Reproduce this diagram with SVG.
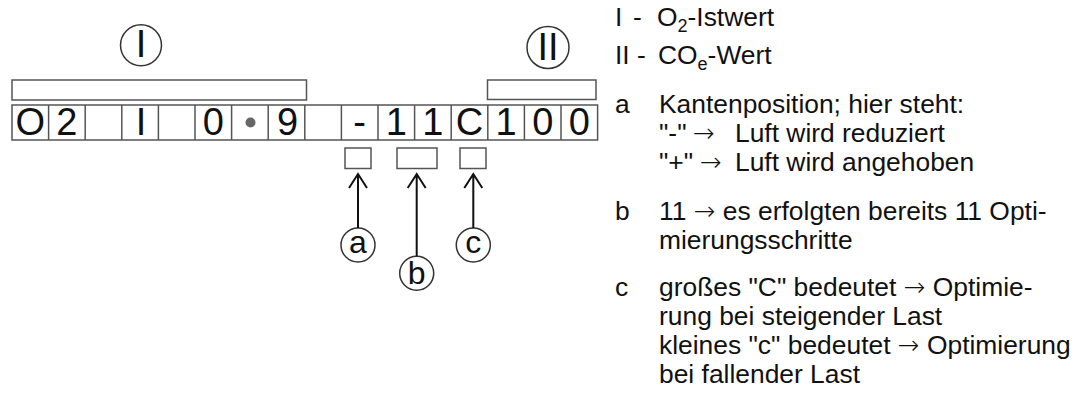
<svg xmlns="http://www.w3.org/2000/svg" width="1092" height="396" viewBox="0 0 1092 396">
<style>
.box{fill:#fff;stroke:#555;stroke-width:1.5}
.dv{stroke:#555;stroke-width:1.5}
.dig{font-family:"Liberation Sans Narrow","Liberation Sans",Arial,sans-serif;font-size:38px;fill:#111;text-anchor:middle}
.lbl{font-family:"Liberation Sans",Arial,sans-serif;font-size:32px;fill:#111;text-anchor:middle}
.circ{fill:#fff;stroke:#333;stroke-width:1.5}
.con{stroke:#111;stroke-width:2;fill:none}
.t{font-family:"Liberation Sans",Arial,sans-serif;font-size:26.4px;fill:#111}
.ar{font-family:"DejaVu Sans",sans-serif;font-size:26px;font-weight:200}
</style>
<rect width="1092" height="396" fill="#fff"/>
<g id="display">
<rect class="box" x="12" y="105" width="585.6" height="35"/>
<path class="dv" d="M48.6 105V140M85.2 105V140M121.8 105V140M158.4 105V140M195 105V140M231.6 105V140M268.2 105V140M304.8 105V140M341.4 105V140M378 105V140M414.6 105V140M451.2 105V140M487.8 105V140M524.4 105V140M561 105V140"/>
<text class="dig" x="30.3" y="135">O</text>
<text class="dig" x="66.9" y="135">2</text>
<text class="dig" x="141" y="135">I</text>
<text class="dig" x="213.3" y="135">0</text>
<circle cx="250.5" cy="122.5" r="5" fill="#666"/>
<text class="dig" x="287.5" y="135">9</text>
<text class="dig" x="359.7" y="135">-</text>
<text class="dig" x="396.3" y="135">1</text>
<text class="dig" x="432.9" y="135">1</text>
<text class="dig" x="469.5" y="135">C</text>
<text class="dig" x="506.1" y="135">1</text>
<text class="dig" x="542.7" y="135">0</text>
<text class="dig" x="579.3" y="135">0</text>
</g>
<g id="bar-I">
<rect class="box" x="12" y="80" width="294.5" height="20"/>
<circle class="circ" cx="141" cy="45.3" r="20.5"/>
<text class="dig" x="141" y="57">I</text>
</g>
<g id="bar-II">
<rect class="box" x="487.5" y="80" width="108.5" height="19.5"/>
<circle class="circ" cx="548" cy="47.5" r="21"/>
<text class="dig" x="548" y="60">II</text>
</g>
<g id="node-a">
<rect class="box" x="345" y="148" width="26" height="20.5"/>
<circle class="circ" cx="358" cy="245" r="17"/>
<text class="lbl" x="358" y="253">a</text>
</g>
<g id="node-b">
<rect class="box" x="397" y="148" width="40" height="20.5"/>
<circle class="circ" cx="416.7" cy="273.3" r="17"/>
<text class="lbl" x="416.7" y="284">b</text>
</g>
<g id="node-c">
<rect class="box" x="460" y="148" width="26" height="20.5"/>
<circle class="circ" cx="473.3" cy="245" r="17"/>
<text class="lbl" x="473.3" y="253">c</text>
</g>
<g id="connectors">
<path class="con" d="M358 228V174M349 188L358 174L367 188"/>
<path class="con" d="M416.7 256.3V174M407.7 188L416.7 174L425.7 188"/>
<path class="con" d="M473.3 228V174M464.3 188L473.3 174L482.3 188"/>
</g>
<g id="legend">
<text class="t" x="615" y="26">I</text>
<text class="t" x="633" y="26">-</text>
<text class="t" x="657" y="26">O<tspan font-size="18" dy="6">2</tspan><tspan dy="-6">-Istwert</tspan></text>
<text class="t" x="615" y="64">II</text>
<text class="t" x="637" y="64">-</text>
<text class="t" x="658" y="64">CO<tspan font-size="18" dy="6">e</tspan><tspan dy="-6">-Wert</tspan></text>
<text class="t" x="615" y="113">a</text>
<text class="t" x="659" y="113">Kantenposition; hier steht:</text>
<text class="t" x="659" y="142">"-"</text>
<text class="t ar" x="693" y="142">→</text>
<text class="t" x="735" y="142">Luft wird reduziert</text>
<text class="t" x="659" y="171">"+"</text>
<text class="t ar" x="700" y="171">→</text>
<text class="t" x="735" y="171">Luft wird angehoben</text>
<text class="t" x="615" y="220">b</text>
<text class="t" x="659" y="220">11 <tspan class="ar">→</tspan> es erfolgten bereits 11 Opti-</text>
<text class="t" x="659" y="249">mierungsschritte</text>
<text class="t" x="615" y="296">c</text>
<text class="t" x="659" y="296">großes "C" bedeutet <tspan class="ar">→</tspan> Optimie-</text>
<text class="t" x="659" y="325">rung bei steigender Last</text>
<text class="t" x="659" y="354">kleines "c" bedeutet <tspan class="ar">→</tspan> Optimierung</text>
<text class="t" x="659" y="383">bei fallender Last</text>
</g>
</svg>
